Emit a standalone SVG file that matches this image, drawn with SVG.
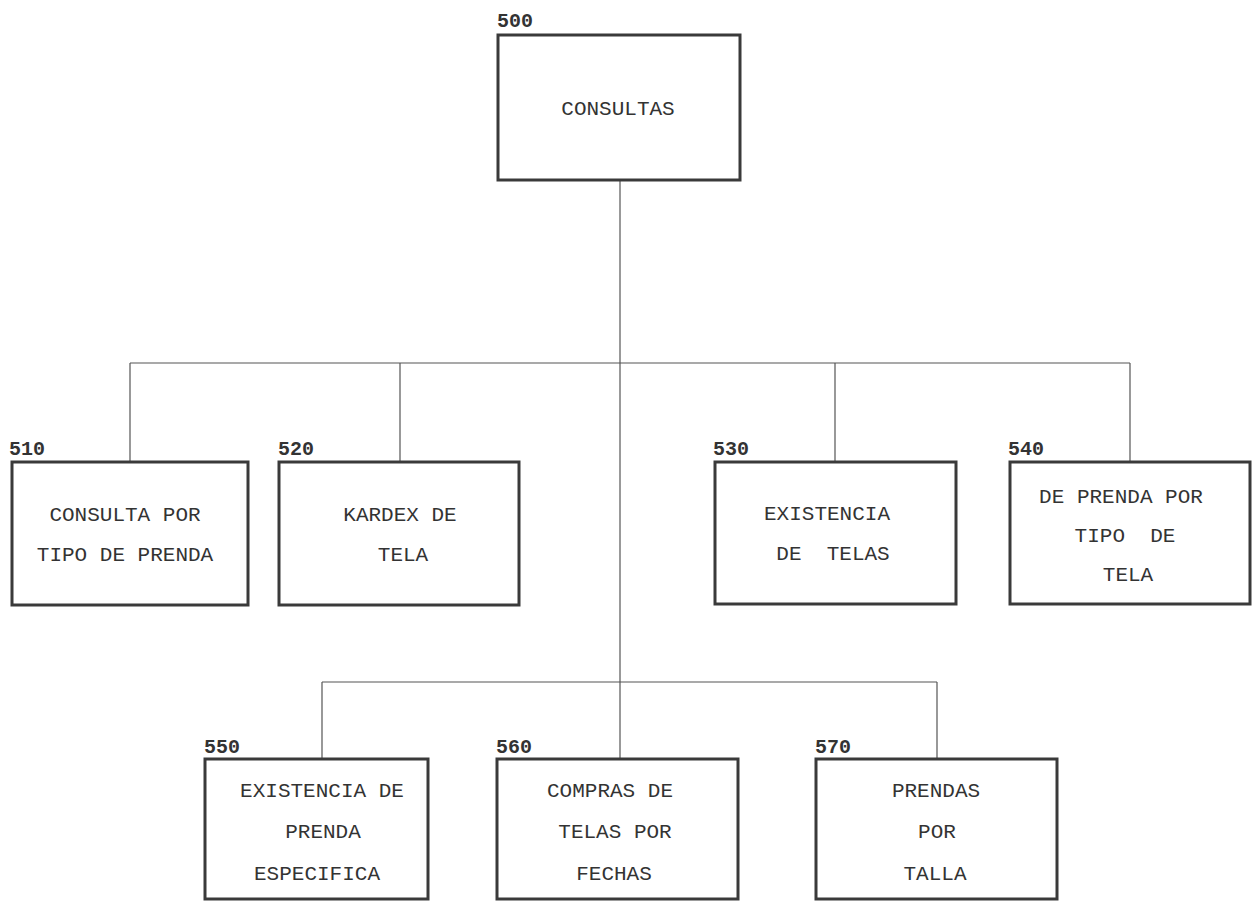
<svg xmlns="http://www.w3.org/2000/svg" width="1256" height="901" viewBox="0 0 1256 901">
<style>
.box{fill:#fff;stroke:#3a3a3a;stroke-width:3}
.t{font-family:"Liberation Mono","DejaVu Sans Mono",monospace;font-size:21px;fill:#333;text-anchor:middle;white-space:pre}
.n{font-family:"Liberation Mono","DejaVu Sans Mono",monospace;font-size:20px;font-weight:bold;fill:#333}
.c{stroke:#555;stroke-width:1.2;fill:none}
</style>
<rect width="1256" height="901" fill="#fff"/>
<g id="connectors">
<path class="c" d="M620,180 V759"/>
<path class="c" d="M130,363 H1130 M130,363 V462 M400,363 V462 M835,363 V462 M1130,363 V462"/>
<path class="c" d="M322,682 H937 M322,682 V759 M937,682 V759"/>
</g>
<g id="n500">
<text class="n" x="497" y="27">500</text>
<rect class="box" x="498" y="35" width="242" height="145"/>
<text class="t" x="618" y="115">CONSULTAS</text>
</g>
<g id="n510">
<text class="n" x="9" y="455">510</text>
<rect class="box" x="12" y="462" width="236" height="143"/>
<text class="t" x="125" y="521">CONSULTA POR</text>
<text class="t" x="125" y="561">TIPO DE PRENDA</text>
</g>
<g id="n520">
<text class="n" x="278" y="455">520</text>
<rect class="box" x="279" y="462" width="240" height="143"/>
<text class="t" x="400" y="521">KARDEX DE</text>
<text class="t" x="403" y="561">TELA</text>
</g>
<g id="n530">
<text class="n" x="713" y="455">530</text>
<rect class="box" x="715" y="462" width="241" height="142"/>
<text class="t" x="827" y="520">EXISTENCIA</text>
<text class="t" x="833" y="560">DE  TELAS</text>
</g>
<g id="n540">
<text class="n" x="1008" y="455">540</text>
<rect class="box" x="1010" y="462" width="240" height="142"/>
<text class="t" x="1121" y="503">DE PRENDA POR</text>
<text class="t" x="1125" y="542">TIPO  DE</text>
<text class="t" x="1128" y="581">TELA</text>
</g>
<g id="n550">
<text class="n" x="204" y="753">550</text>
<rect class="box" x="205" y="759" width="223" height="140"/>
<text class="t" x="322" y="797">EXISTENCIA DE</text>
<text class="t" x="323" y="838">PRENDA</text>
<text class="t" x="317" y="880">ESPECIFICA</text>
</g>
<g id="n560">
<text class="n" x="496" y="753">560</text>
<rect class="box" x="497" y="759" width="241" height="140"/>
<text class="t" x="610" y="797">COMPRAS DE</text>
<text class="t" x="615" y="838">TELAS POR</text>
<text class="t" x="614" y="880">FECHAS</text>
</g>
<g id="n570">
<text class="n" x="815" y="753">570</text>
<rect class="box" x="816" y="759" width="241" height="140"/>
<text class="t" x="936" y="797">PRENDAS</text>
<text class="t" x="937" y="838">POR</text>
<text class="t" x="935" y="880">TALLA</text>
</g>
</svg>
